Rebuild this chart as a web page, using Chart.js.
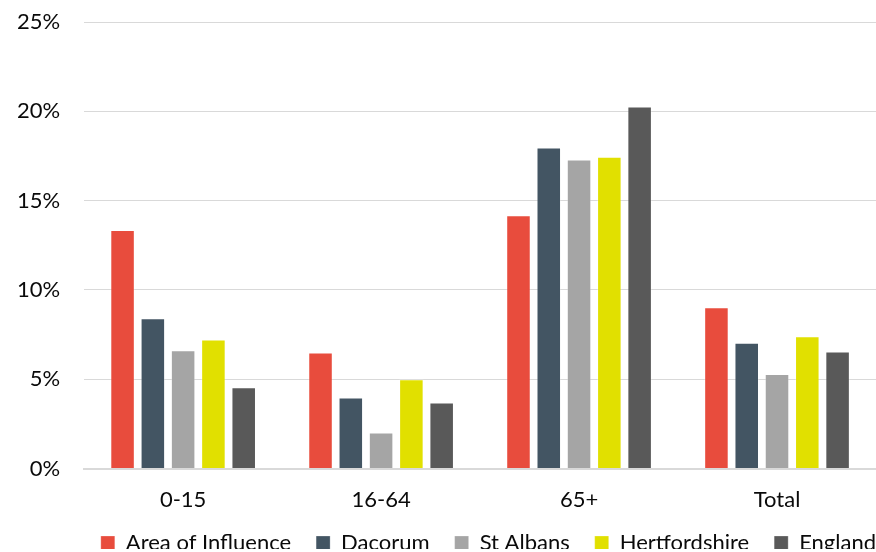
<!DOCTYPE html>
<html>
<head>
<meta charset="utf-8">
<script src="https://cdn.jsdelivr.net/npm/chart.js@4/dist/chart.umd.min.js"></script>
<style>
  html, body { margin: 0; padding: 0; background: #fff; overflow: hidden; }
  #wrap { position: relative; width: 876px; height: 565px; }
</style>
</head>
<body>
<div id="wrap"><canvas id="chart"></canvas></div>
<script>
// Population change by age band (%)
const categories = ['0-15', '16-64', '65+', 'Total'];
const areaOfInfluence = [13.36, 6.5, 14.18, 9.03];
const dacorum = [8.42, 3.98, 17.97, 7.05];
const stAlbans = [6.63, 2.02, 17.3, 5.3];
const hertfordshire = [7.22, 5.0, 17.45, 7.41];
const england = [4.55, 3.7, 20.27, 6.55];
const yTicks = [0, 5, 10, 15, 20, 25];

const seriesNames = ['Area of Influence', 'Dacorum', 'St Albans', 'Hertfordshire', 'England'];
const seriesValues = [areaOfInfluence, dacorum, stAlbans, hertfordshire, england];
const seriesColors = ['#E84C3D', '#435563', '#A5A5A5', '#E1E000', '#595959'];

const FONT = "'Source Sans Pro', Lato, 'Noto Sans', sans-serif";
const TEXT = '#0a0a0a';

// Keep the legend row close under the axis labels while keeping wide gaps between entries
const compactLegend = {
  id: 'compactLegend',
  afterInit(chart) {
    const legend = chart.legend;
    const fit = legend.fit.bind(legend);
    legend.fit = function () { fit(); this.height -= 15; };
  },
  afterLayout(chart) {
    const legend = chart.legend;
    legend.top -= 16;
    legend.bottom -= 16;
    legend.left += 25;
    legend.right += 25;
  }
};

new Chart(document.getElementById('chart'), {
  type: 'bar',
  data: {
    labels: categories,
    datasets: seriesValues.map((vals, i) => ({
      label: seriesNames[i],
      data: vals,
      backgroundColor: seriesColors[i],
      borderColor: 'rgba(255,255,255,0.25)',
      borderWidth: 1,
      categoryPercentage: 0.765,
      barPercentage: 0.81
    }))
  },
  options: {
    responsive: true,
    maintainAspectRatio: false,
    animation: false,
    layout: { padding: { top: 0, right: 0, left: -7, bottom: 0 } },
    plugins: {
      tooltip: { enabled: false },
      legend: {
        position: 'bottom',
        align: 'end',
        labels: {
          color: TEXT,
          font: { family: FONT, size: 22 },
          boxWidth: 14,
          boxHeight: 14,
          padding: 25
        }
      }
    },
    scales: {
      x: {
        grid: { display: false },
        border: { color: '#d9d9d9', width: 2 },
        ticks: { color: TEXT, font: { family: FONT, size: 22 }, padding: 10 }
      },
      y: {
        min: 0,
        max: 25,
        afterBuildTicks: (axis) => { axis.ticks = yTicks.map(v => ({ value: v })); },
        afterFit: (axis) => { axis.paddingTop = 22; },
        grid: { color: '#d9d9d9', lineWidth: 1, drawTicks: false },
        border: { display: false },
        ticks: {
          color: TEXT,
          font: { family: FONT, size: 22 },
          padding: 24,
          callback: (v) => v + '%'
        }
      }
    }
  },
  plugins: [compactLegend]
});
</script>
</body>
</html>
